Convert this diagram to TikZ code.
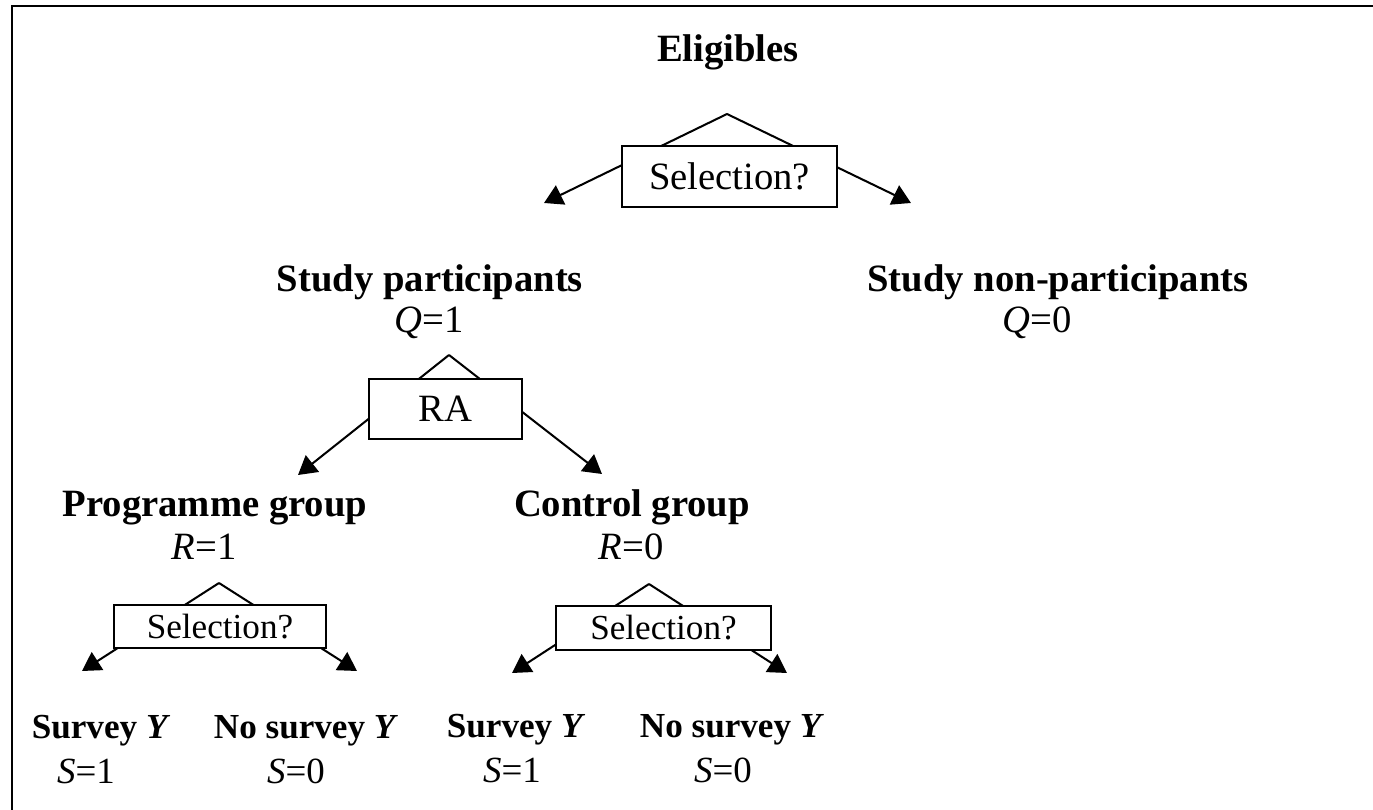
\documentclass[tikz,border=0pt]{standalone}
\usepackage{fontspec}
\setmainfont{Liberation Serif}
\usetikzlibrary{arrows.meta}

\begin{document}
\begin{tikzpicture}[x=0.02cm, y=-0.02cm, line width=1.15pt,
        big/.style={inner sep=0pt, anchor=base, font=\bfseries\fontsize{22}{26}\selectfont},
        val/.style={inner sep=0pt, anchor=base, font=\fontsize{22}{26}\selectfont},
        small/.style={inner sep=0pt, anchor=base, font=\bfseries\fontsize{20}{24}\selectfont},
        sval/.style={inner sep=0pt, anchor=base, font=\fontsize{21}{24}\selectfont},
        box/.style={draw, fill=white, inner sep=0pt, font=\fontsize{22}{26}\selectfont},
        sbox/.style={draw, fill=white, inner sep=0pt, font=\fontsize{20}{24}\selectfont},
        branch/.style={-{Triangle[length=10.5pt, width=12pt]}}]
        \useasboundingbox (0,0) rectangle (1373,810);

        % 外框
        \draw (12,810) -- (12,6) -- (1373,6);

        % 第一层: Eligibles
        \node[big] (elig) at (728,62) {Eligibles};
        \coordinate (topA) at (727,114);
        \coordinate (topL) at (544,203);
        \coordinate (topR) at (911,203);
        \draw[branch] (topA) -- (topL);
        \draw[branch] (topA) -- (topR);
        \node[box, minimum width=4.3cm, minimum height=1.22cm] (topsel) at (729.5,176.5) {Selection?};

        % 第二层
        \node[big] (part) at (430,292) {Study participants};
        \node[val] (partQ) at (429,333) {\textit{Q}=1};
        \node[big] (nonpart) at (1058,292) {Study non-participants};
        \node[val] (nonpartQ) at (1037,333) {\textit{Q}=0};

        % 随机分配
        \coordinate (raA) at (449,355);
        \coordinate (raL) at (298,475);
        \coordinate (raR) at (602,474);
        \draw[branch] (raA) -- (raL);
        \draw[branch] (raA) -- (raR);
        \node[box, minimum width=3.06cm, minimum height=1.2cm] (ra) at (445.5,409) {RA};

        % 第三层
        \node[big] (prog) at (215,517) {Programme group};
        \node[val] (progR) at (204,560) {\textit{R}=1};
        \node[big] (ctrl) at (632,517) {Control group};
        \node[val] (ctrlR) at (631,560) {\textit{R}=0};

        % 两个 Selection?
        \coordinate (pA) at (219,583);
        \coordinate (pL) at (82,671);
        \coordinate (pR) at (357,671);
        \draw[branch] (pA) -- (pL);
        \draw[branch] (pA) -- (pR);
        \node[sbox, minimum width=4.24cm, minimum height=0.86cm] (psel) at (220,626.5) {Selection?};

        \coordinate (cA) at (649,584);
        \coordinate (cL) at (512,673);
        \coordinate (cR) at (787,673);
        \draw[branch] (cA) -- (cL);
        \draw[branch] (cA) -- (cR);
        \node[sbox, minimum width=4.3cm, minimum height=0.88cm] (csel) at (663.5,628) {Selection?};

        % 最底层
        \node[small] (psurv) at (101,738) {Survey \textit{Y}};
        \node[sval] (pS1) at (86,783) {\textit{S}=1};
        \node[small] (pnosurv) at (306,738) {No survey \textit{Y}};
        \node[sval] (pS0) at (296,783) {\textit{S}=0};
        \node[small] (csurv) at (516,737) {Survey \textit{Y}};
        \node[sval] (cS1) at (512,782) {\textit{S}=1};
        \node[small] (cnosurv) at (732,737) {No survey \textit{Y}};
        \node[sval] (cS0) at (723,782) {\textit{S}=0};
    \end{tikzpicture}
\end{document}
